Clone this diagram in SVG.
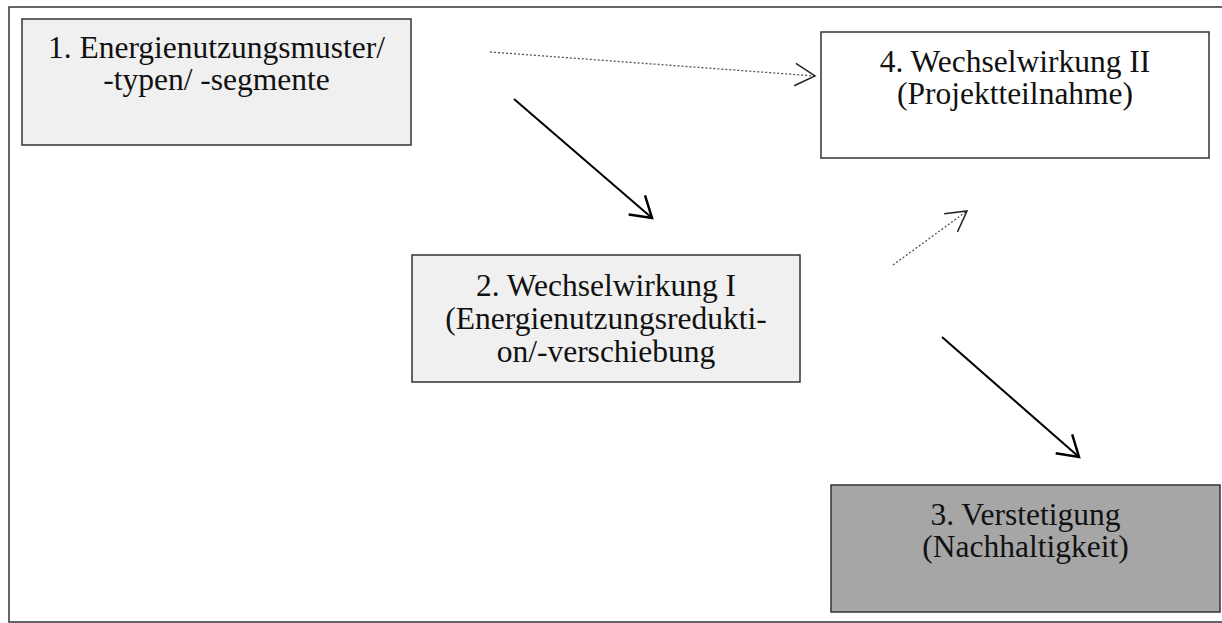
<svg xmlns="http://www.w3.org/2000/svg" width="1222" height="623" viewBox="0 0 1222 623">
<style>
.box{stroke:#333;stroke-width:1.5}
.t{font-family:"Liberation Serif","Times New Roman",serif;font-size:31.5px;fill:#111;text-anchor:middle}
.solid{stroke:#000;stroke-width:2;fill:none}
.dot{stroke:#555;stroke-width:1.3;stroke-dasharray:2 2;fill:none}
</style>
<defs>
<marker id="hs" markerUnits="userSpaceOnUse" markerWidth="30" markerHeight="30" viewBox="-20 -12 24 24" refX="0" refY="0" orient="auto">
<path d="M-16,-10 L0,0 L-16,10" fill="none" stroke="#000" stroke-width="2"/>
</marker>
<marker id="hd" markerUnits="userSpaceOnUse" markerWidth="30" markerHeight="30" viewBox="-20 -12 24 24" refX="0" refY="0" orient="auto">
<path d="M-16,-9 L0,0 L-16,9" fill="none" stroke="#222" stroke-width="1.2"/>
</marker>
</defs>
<rect x="9" y="7" width="1230" height="615" fill="#fff" stroke="#333" stroke-width="1.5"/>
<g id="n1">
<rect class="box" x="22" y="19" width="389" height="126" fill="#f0f0f0"/>
<text class="t" x="216.5" y="58">1. Energienutzungsmuster/</text>
<text class="t" x="216.5" y="90">-typen/ -segmente</text>
</g>
<g id="n4">
<rect class="box" x="821" y="32" width="388" height="126" fill="#fff"/>
<text class="t" x="1015" y="72">4. Wechselwirkung II</text>
<text class="t" x="1015" y="104">(Projektteilnahme)</text>
</g>
<g id="n2">
<rect class="box" x="412" y="255" width="388" height="127" fill="#f0f0f0"/>
<text class="t" x="606" y="296">2. Wechselwirkung I</text>
<text class="t" x="606" y="329">(Energienutzungsredukti-</text>
<text class="t" x="606" y="362">on/-verschiebung</text>
</g>
<g id="n3">
<rect class="box" x="831" y="485" width="389" height="127" fill="#a6a6a6"/>
<text class="t" x="1025.5" y="525">3. Verstetigung</text>
<text class="t" x="1025.5" y="557">(Nachhaltigkeit)</text>
</g>
<g id="connectors">
<line class="dot" x1="490" y1="52" x2="815" y2="76" marker-end="url(#hd)"/>
<line class="solid" x1="514" y1="99" x2="652" y2="218" marker-end="url(#hs)"/>
<line class="dot" x1="893" y1="265" x2="967" y2="211" marker-end="url(#hd)"/>
<line class="solid" x1="942" y1="337" x2="1079" y2="457" marker-end="url(#hs)"/>
</g>
</svg>
